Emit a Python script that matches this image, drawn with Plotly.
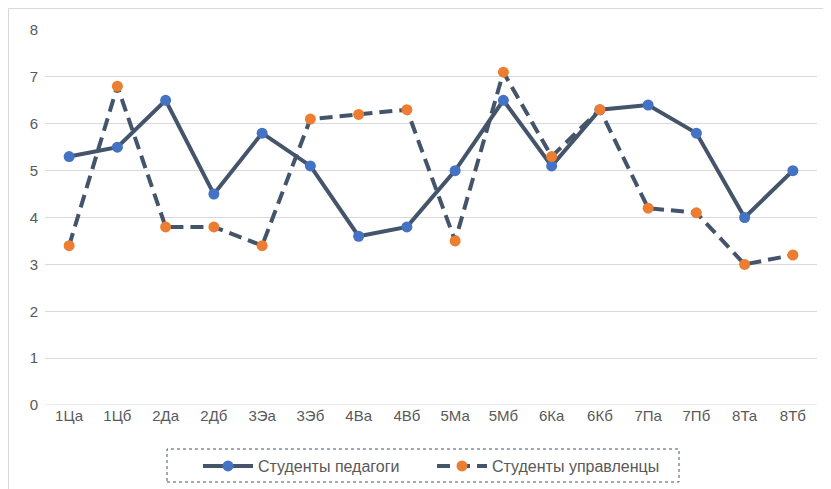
import plotly.graph_objects as go

categories = ["1Ца", "1Цб", "2Да", "2Дб", "3Эа", "3Эб", "4Ва", "4Вб",
              "5Ма", "5Мб", "6Ка", "6Кб", "7Па", "7Пб", "8Та", "8Тб"]
pedagogi = [5.3, 5.5, 6.5, 4.5, 5.8, 5.1, 3.6, 3.8, 5.0, 6.5, 5.1, 6.3, 6.4, 5.8, 4.0, 5.0]
upravlentsy = [3.4, 6.8, 3.8, 3.8, 3.4, 6.1, 6.2, 6.3, 3.5, 7.1, 5.3, 6.3, 4.2, 4.1, 3.0, 3.2]
y_ticks = [0, 1, 2, 3, 4, 5, 6, 7, 8]

line_color = "#44546A"
font_family = "Liberation Sans, Arial, sans-serif"

fig = go.Figure()
fig.add_trace(go.Scatter(
    x=categories, y=pedagogi, name="Студенты педагоги",
    mode="lines+markers",
    line=dict(color=line_color, width=4),
    marker=dict(color="#4472C4", size=11),
))
fig.add_trace(go.Scatter(
    x=categories, y=upravlentsy, name="Студенты управленцы",
    mode="lines+markers",
    line=dict(color=line_color, width=4, dash="13px,7px"),
    marker=dict(color="#ED7D31", size=11),
))

# page is rendered with an 8px body margin, so figure coords = page coords - 8
OFF = 8
W, H = 831 - OFF, 489 - OFF
L, R, T, B = 45 - OFF, W - (817 - OFF), 30 - OFF, H - (405 - OFF)
pw, ph = W - L - R, H - T - B

def px(x):
    return (x - OFF - L) / pw

def py(y):
    return (H - B - (y - OFF)) / ph

fig.update_layout(
    width=W, height=H,
    margin=dict(l=L, r=R, t=T, b=B, autoexpand=False),
    paper_bgcolor="white", plot_bgcolor="white",
    font=dict(family=font_family, size=15, color="#595959"),
    showlegend=True,
    legend=dict(orientation="h", x=px(198), xanchor="left", y=py(466), yanchor="middle",
                font=dict(size=16, color="#595959"), itemwidth=50,
                entrywidth=169, entrywidthmode="pixels",
                bgcolor="rgba(0,0,0,0)"),
    xaxis=dict(type="category", showgrid=False, showline=False, ticks="", automargin=False,
               tickfont=dict(size=15, color="#595959"), range=[-0.5, len(categories) - 0.5]),
    yaxis=dict(range=[0, 8], tickvals=y_ticks, showgrid=True, gridcolor="#D9D9D9",
               gridwidth=1, zeroline=False, showline=False, ticks="", automargin=False,
               ticklabelstandoff=6,
               tickfont=dict(size=15, color="#595959")),
    shapes=[
        dict(type="rect", xref="paper", yref="paper",
             x0=px(8.5), x1=px(840), y0=py(500), y1=py(8.5),
             line=dict(color="#D9D9D9", width=1)),
        dict(type="rect", xref="paper", yref="paper",
             x0=px(167), x1=px(679), y0=py(482), y1=py(449),
             line=dict(color=line_color, width=1, dash="dot")),
    ],
)
fig.add_shape(type="line", xref="paper", yref="y", x0=0, x1=1, y0=0, y1=0,
              line=dict(color="#D9D9D9", width=1))

fig.write_html("out.html")
